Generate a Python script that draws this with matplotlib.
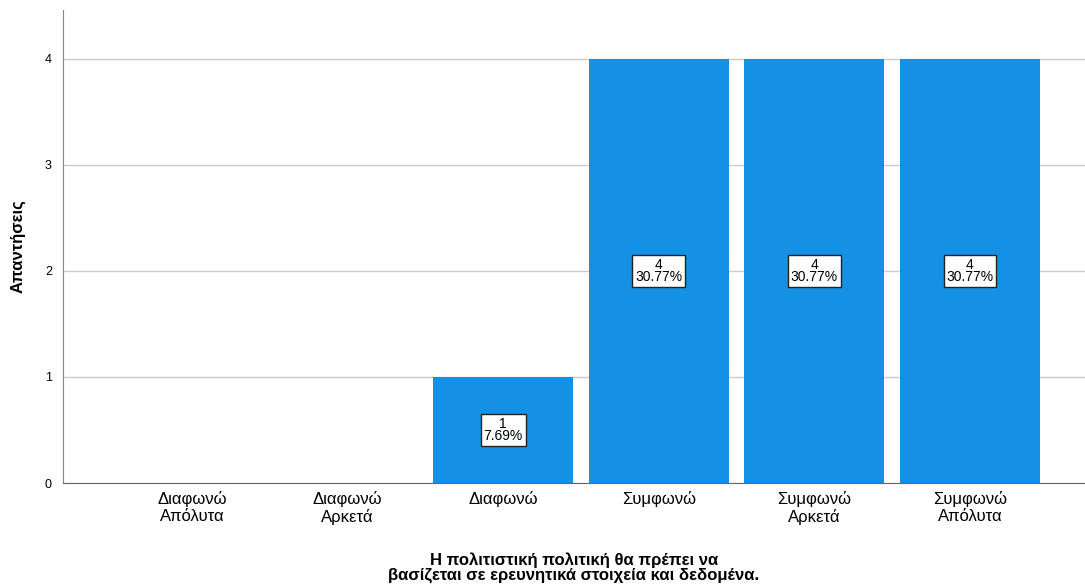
import matplotlib
matplotlib.use("Agg")
import matplotlib.pyplot as plt
from matplotlib import font_manager

categories = ["Διαφωνώ\nΑπόλυτα", "Διαφωνώ\nΑρκετά", "Διαφωνώ", "Συμφωνώ", "Συμφωνώ\nΑρκετά", "Συμφωνώ\nΑπόλυτα"]
counts = [0, 0, 1, 4, 4, 4]
percent_labels = ["0%", "0%", "7.69%", "30.77%", "30.77%", "30.77%"]
yticks = [0, 1, 2, 3, 4]
ylabel = "Απαντήσεις"
xlabel = "Η πολιτιστική πολιτική θα πρέπει να\nβασίζεται σε ερευνητικά στοιχεία και δεδομένα."

names = {f.name for f in font_manager.fontManager.ttflist}
narrow = "Liberation Sans Narrow" if "Liberation Sans Narrow" in names else "Liberation Sans"
plt.rcParams['font.family'] = [narrow, 'DejaVu Sans']

fig = plt.figure(figsize=(10.85, 5.85), dpi=100)
ax = fig.add_axes([63/1085, 102/585, 1 - 63/1085, (483-10)/585])

x = list(range(len(categories)))
ax.bar(x, counts, width=0.9, color="#1490e4", linewidth=0, zorder=3)
for xi, c, p in zip(x, counts, percent_labels):
    if c > 0:
        ax.text(xi, c/2, f"{c}\n{p}", ha="center", va="center", fontsize=10,
                family=["Liberation Sans", "DejaVu Sans"], linespacing=0.85,
                bbox=dict(boxstyle="square,pad=0.2", fc="white", ec="#222222", lw=1.0), zorder=4)

ax.set_xlim(-0.83, 5.74)
ax.set_ylim(0, 4.46)
ax.set_yticks(yticks)
ax.set_yticklabels([str(t) for t in yticks], family=["Liberation Sans", "DejaVu Sans"], fontsize=9)
ax.set_xticks(x)
ax.set_xticklabels(categories, fontsize=12, linespacing=1.1)
ax.tick_params(axis="both", length=0, pad=8)
ax.tick_params(axis="x", pad=6)
ax.yaxis.grid(True, color="#cccccc", lw=1, zorder=0)
ax.set_axisbelow(True)
for s in ["top", "right"]:
    ax.spines[s].set_visible(False)
ax.spines["left"].set_color("#888888")
ax.spines["bottom"].set_color("#666666")
ax.set_ylabel(ylabel, fontsize=12, fontweight="bold", labelpad=14)
ax.set_xlabel(xlabel, fontsize=12, fontweight="bold", labelpad=20, linespacing=0.95)

fig.savefig("out.png", dpi=100)
